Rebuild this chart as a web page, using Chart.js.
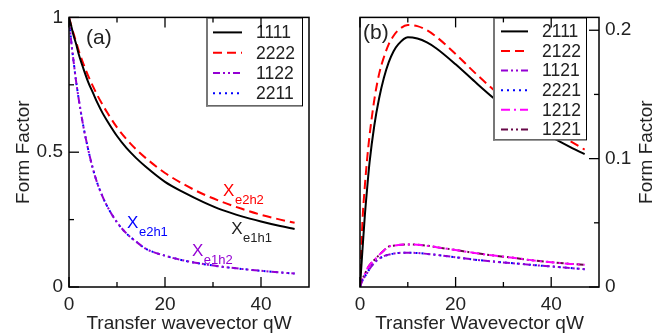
<!DOCTYPE html>
<html>
<head>
<meta charset="utf-8">
<script src="https://cdn.jsdelivr.net/npm/chart.js@4.4.1/dist/chart.umd.min.js"></script>
<style>
  html, body { margin: 0; padding: 0; background: #fff; }
  #wrap { position: relative; width: 667px; height: 336px; }
  .panel { position: absolute; top: 0; }
  #pa { left: 0; }
  #pb { left: 333px; }
</style>
</head>
<body>
<div id="wrap">
  <div class="panel" id="pa"><canvas id="chartA" width="333" height="336"></canvas></div>
  <div class="panel" id="pb"><canvas id="chartB" width="334" height="336"></canvas></div>
</div>
<script>
// transfer wavevector qW, shared by all curves
const qW = [0, 0.5, 1, 1.5, 2, 3, 4, 5, 6, 7, 8, 10, 12, 14, 16, 20, 24, 28, 32, 36, 40, 44, 47];

// panel (a)
const ff1111 = [1, 0.965, 0.93, 0.9, 0.865, 0.81, 0.76, 0.72, 0.68, 0.645, 0.615, 0.56, 0.515, 0.478, 0.446, 0.39, 0.35, 0.315, 0.285, 0.262, 0.243, 0.226, 0.215];
const ff2222 = [1, 0.968, 0.937, 0.908, 0.878, 0.828, 0.783, 0.744, 0.708, 0.676, 0.646, 0.592, 0.548, 0.51, 0.478, 0.423, 0.38, 0.344, 0.315, 0.29, 0.268, 0.25, 0.238];
const ff1122 = [1, 0.905, 0.83, 0.76, 0.7, 0.595, 0.51, 0.437, 0.38, 0.335, 0.298, 0.24, 0.198, 0.168, 0.142, 0.116, 0.098, 0.085, 0.075, 0.067, 0.06, 0.054, 0.05];
const ff2211 = [1, 0.905, 0.83, 0.76, 0.7, 0.595, 0.51, 0.437, 0.38, 0.335, 0.298, 0.24, 0.198, 0.168, 0.142, 0.116, 0.098, 0.085, 0.075, 0.067, 0.06, 0.054, 0.05];

// panel (b)
const ff2111 = [0, 0.028, 0.055, 0.077, 0.097, 0.126, 0.147, 0.163, 0.175, 0.1835, 0.189, 0.1945, 0.1935, 0.1905, 0.1858, 0.1735, 0.16, 0.147, 0.1355, 0.1255, 0.117, 0.109, 0.1035];
const ff2122 = [0, 0.05, 0.078, 0.1, 0.118, 0.146, 0.166, 0.179, 0.189, 0.1955, 0.2, 0.204, 0.2032, 0.2, 0.1948, 0.1815, 0.167, 0.1535, 0.1415, 0.131, 0.122, 0.1135, 0.107];
const ff1121 = [0, 0.005, 0.008, 0.011, 0.014, 0.019, 0.022, 0.024, 0.0252, 0.026, 0.0265, 0.0267, 0.0265, 0.0258, 0.025, 0.0232, 0.0213, 0.0198, 0.0185, 0.0172, 0.016, 0.0148, 0.0138];
const ff2221 = [0, 0.005, 0.008, 0.011, 0.014, 0.019, 0.022, 0.024, 0.0252, 0.026, 0.0265, 0.0267, 0.0265, 0.0258, 0.025, 0.0232, 0.0213, 0.0198, 0.0185, 0.0172, 0.016, 0.0148, 0.0138];
const ff1212 = [0, 0.006, 0.01, 0.014, 0.017, 0.021, 0.025, 0.0285, 0.0315, 0.0322, 0.0328, 0.0332, 0.033, 0.0322, 0.031, 0.0288, 0.0265, 0.0245, 0.0228, 0.0208, 0.0193, 0.018, 0.0173];
const ff1221 = [0, 0.006, 0.01, 0.014, 0.017, 0.021, 0.025, 0.0285, 0.0315, 0.0322, 0.0328, 0.0332, 0.033, 0.0322, 0.031, 0.0288, 0.0265, 0.0245, 0.0228, 0.0208, 0.0193, 0.018, 0.0173];

// axis ticks
const xMajor = [0, 20, 40];
const xMinor = [10, 30];
const yMajorA = [0, 0.5, 1];
const yMinorA = [0.25, 0.75];
const yMajorB = [0, 0.1, 0.2];
const yMinorB = [0.05, 0.15];

// curve labels in panel (a)
const labelsA = [
  { main: 'X', sub: 'e2h2', q: 32.1, v: 0.337, color: '#ff0000' },
  { main: 'X', sub: 'e1h1', q: 33.8, v: 0.198, color: '#222222' },
  { main: 'X', sub: 'e2h1', q: 12.1, v: 0.22, color: '#0000ff' },
  { main: 'X', sub: 'e1h2', q: 25.6, v: 0.114, color: '#9400d3' }
];

const FONT = '"Liberation Sans", Arial, Helvetica, sans-serif';
const INK = '#222';

function pts(ys) {
  return qW.map((q, i) => ({ x: q, y: ys[i] }));
}

function line(label, ys, color, dash) {
  return {
    label: label,
    data: pts(ys),
    borderColor: color,
    backgroundColor: color,
    borderWidth: 2,
    borderDash: dash,
    pointRadius: 0,
    showLine: true,
    fill: false,
    cubicInterpolationMode: 'monotone'
  };
}

const DASH = [9, 5];
const DASHDOTDOT = [7, 3, 2, 3, 2, 3];
const DOT = [2, 4];
const DASHDOT = [9, 4, 2, 4];

// frame, inward ticks, legend box and text bits
function decorations(cfg) {
  return {
    id: 'decor' + cfg.name,
    afterDraw(chart) {
      const { ctx, chartArea: a, scales: { x, y } } = chart;
      ctx.save();

      // in-plot labels
      (cfg.labels || []).forEach(l => {
        const px = x.getPixelForValue(l.q);
        const py = y.getPixelForValue(l.v);
        ctx.fillStyle = l.color;
        ctx.textBaseline = 'alphabetic';
        ctx.textAlign = 'left';
        ctx.font = '17px ' + FONT;
        ctx.fillText(l.main, px, py);
        const w = ctx.measureText(l.main).width;
        ctx.font = '13px ' + FONT;
        ctx.fillText(l.sub, px + w + 0.5, py + 8);
      });

      // panel tag
      ctx.fillStyle = INK;
      ctx.font = '21px ' + FONT;
      ctx.textAlign = 'left';
      ctx.textBaseline = 'alphabetic';
      ctx.fillText(cfg.tag, a.left + cfg.tagX, a.top + cfg.tagY);

      // legend
      const lg = cfg.legend;
      const bx0 = a.left + lg.x0, bx1 = a.left + lg.x1;
      const by0 = a.top, by1 = a.top + lg.h;
      ctx.fillStyle = '#fff';
      ctx.fillRect(bx0, by0, bx1 - bx0, by1 - by0);
      ctx.strokeStyle = '#000';
      ctx.lineWidth = 1;
      ctx.strokeRect(bx0 + 0.5, by0 + 0.5, bx1 - bx0 - 1, by1 - by0 - 1);
      ctx.strokeStyle = '#777';
      ctx.lineWidth = 2;
      ctx.beginPath();
      ctx.moveTo(bx0 + 1, by0);
      ctx.lineTo(bx0 + 1, by1);
      ctx.stroke();
      ctx.font = '17.5px ' + FONT;
      ctx.textBaseline = 'middle';
      lg.order.forEach((idx, row) => {
        const ds = chart.data.datasets[idx];
        const ry = by0 + lg.row0 + row * lg.step;
        ctx.strokeStyle = ds.borderColor;
        ctx.lineWidth = 2;
        ctx.setLineDash(ds.borderDash || []);
        ctx.beginPath();
        ctx.moveTo(bx0 + lg.l0, ry);
        ctx.lineTo(bx0 + lg.l1, ry);
        ctx.stroke();
        ctx.setLineDash([]);
        ctx.fillStyle = INK;
        ctx.fillText(ds.label, bx0 + lg.tx, ry + 1);
      });

      // frame
      ctx.strokeStyle = '#000';
      ctx.lineWidth = 1.5;
      ctx.strokeRect(a.left, a.top, a.right - a.left, a.bottom - a.top);

      // ticks
      ctx.lineWidth = 1.3;
      const tick = (x0, y0, x1, y1) => {
        ctx.beginPath();
        ctx.moveTo(x0, y0);
        ctx.lineTo(x1, y1);
        ctx.stroke();
      };
      xMajor.forEach(v => {
        const px = x.getPixelForValue(v);
        tick(px, a.bottom, px, a.bottom - 10);
        tick(px, a.top, px, a.top + 10);
      });
      xMinor.forEach(v => {
        const px = x.getPixelForValue(v);
        tick(px, a.bottom, px, a.bottom - 5);
        tick(px, a.top, px, a.top + 5);
      });
      const sideX = cfg.ySide === 'left' ? a.left : a.right;
      const dir = cfg.ySide === 'left' ? 1 : -1;
      cfg.yMajor.forEach(v => {
        const py = y.getPixelForValue(v);
        tick(sideX, py, sideX + dir * 10, py);
      });
      cfg.yMinor.forEach(v => {
        const py = y.getPixelForValue(v);
        tick(sideX, py, sideX + dir * 5, py);
      });

      // right-hand axis title reads bottom to top
      if (cfg.rightTitle) {
        ctx.translate(cfg.rightTitle.x, (a.top + a.bottom) / 2);
        ctx.rotate(-Math.PI / 2);
        ctx.fillStyle = INK;
        ctx.font = '19px ' + FONT;
        ctx.textAlign = 'center';
        ctx.textBaseline = 'middle';
        ctx.fillText(cfg.rightTitle.text, 0, 0);
      }
      ctx.restore();
    }
  };
}

function xScale(title) {
  return {
    type: 'linear',
    min: 0,
    max: 50,
    afterBuildTicks: s => { s.ticks = xMajor.map(v => ({ value: v })); },
    afterFit: s => { s.height = 49; },
    grid: { display: false, drawTicks: false },
    border: { display: false },
    ticks: {
      padding: 6,
      maxRotation: 0,
      color: INK,
      font: { family: FONT, size: 19 },
      callback: v => String(v)
    },
    title: {
      display: true,
      text: title,
      color: INK,
      font: { family: FONT, size: 19 },
      padding: { top: 0, bottom: 1 }
    }
  };
}

function yScale(max, majors, side, width, showTitle) {
  return {
    type: 'linear',
    position: side,
    min: 0,
    max: max,
    afterBuildTicks: s => { s.ticks = majors.map(v => ({ value: v })); },
    afterFit: s => { s.width = width; },
    grid: { display: false, drawTicks: false },
    border: { display: false },
    ticks: {
      padding: 6,
      color: INK,
      font: { family: FONT, size: 19 },
      callback: v => String(v)
    },
    title: {
      display: showTitle,
      text: 'Form Factor',
      color: INK,
      font: { family: FONT, size: 19 },
      padding: { top: 12, bottom: 0 }
    }
  };
}

const common = {
  responsive: false,
  animation: false,
  events: [],
  plugins: { legend: { display: false }, tooltip: { enabled: false } }
};

new Chart(document.getElementById('chartA'), {
  type: 'scatter',
  data: {
    datasets: [
      line('1111', ff1111, '#000000', []),
      line('2222', ff2222, '#ff0000', DASH),
      line('1122', ff1122, '#9400d3', DASHDOTDOT),
      line('2211', ff2211, '#0000ff', DOT)
    ]
  },
  options: Object.assign({}, common, {
    layout: { padding: { top: 14, right: 24, left: 0, bottom: 0 } },
    scales: {
      x: xScale('Transfer wavevector qW'),
      y: yScale(1, yMajorA, 'left', 69, true)
    }
  }),
  plugins: [decorations({
    name: 'A', tag: '(a)', tagX: 17, tagY: 26.5,
    labels: labelsA,
    yMajor: yMajorA, yMinor: yMinorA, ySide: 'left',
    legend: { x0: 137, x1: 234, h: 89, row0: 15, step: 20.3, l0: 7, l1: 36, tx: 50, order: [0, 1, 2, 3] }
  })]
});

new Chart(document.getElementById('chartB'), {
  type: 'scatter',
  data: {
    datasets: [
      line('2111', ff2111, '#000000', []),
      line('2122', ff2122, '#ff0000', DASH),
      line('1121', ff1121, '#9400d3', DASHDOTDOT),
      line('2221', ff2221, '#0000ff', DOT),
      line('1212', ff1212, '#ff00ff', DASHDOT),
      line('1221', ff1221, '#670748', DASHDOTDOT)
    ]
  },
  options: Object.assign({}, common, {
    layout: { padding: { top: 14, right: 0, left: 27, bottom: 0 } },
    scales: {
      x: xScale('Transfer Wavevector qW'),
      y: yScale(0.21, yMajorB, 'right', 68, false)
    }
  }),
  plugins: [decorations({
    name: 'B', tag: '(b)', tagX: 3, tagY: 21.5,
    labels: [],
    yMajor: yMajorB, yMinor: yMinorB, ySide: 'right',
    rightTitle: { text: 'Form Factor', x: 314 },
    legend: { x0: 133, x1: 227, h: 123, row0: 14, step: 19.6, l0: 8, l1: 35, tx: 49, order: [0, 1, 2, 3, 4, 5] }
  })]
});
</script>
</body>
</html>
